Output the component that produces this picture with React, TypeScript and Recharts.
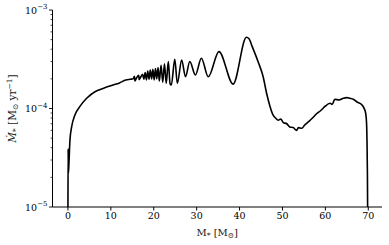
import { LineChart, Line, XAxis, YAxis } from "recharts";

// stellar mass [Msun]
const mass = [
  0.0, 0.05, 0.1, 0.25, 0.47, 0.86, 1.63, 2.8, 4.36, 6.3, 8.2, 10.5, 12.0, 13.5,
  14.5, 15.2, 15.5, 15.6, 16.0, 16.5, 16.6, 17.0, 17.4, 17.7, 18.0, 18.3, 18.6,
  18.9, 19.2, 19.5, 19.8, 20.1, 20.4, 20.7, 21.0, 21.3, 21.7, 22.1, 22.5, 22.9,
  23.4, 23.8, 24.1, 24.9, 25.5, 26.5, 27.4, 28.4, 29.7, 31.1, 32.7, 35.2, 38.5,
  41.6, 42.2, 43.0, 44.3, 45.5, 46.3, 47.1, 47.8, 48.4, 49.0, 49.6, 50.2, 51.0,
  51.7, 52.5, 53.3, 53.7, 54.5, 55.2, 56.0, 57.0, 58.0, 59.0, 59.9, 61.1, 61.6,
  62.2, 63.2, 64.2, 65.0, 65.7, 66.5, 67.3, 68.5, 69.0, 69.4, 69.6, 69.7, 69.8,
  69.85,
];

// accretion rate [Msun/yr]
const mdot = [
  1.0e-5, 3.9e-5, 2.2e-5, 2.9e-5, 4.8e-5, 6.5e-5, 8.6e-5, 1.05e-4, 1.27e-4,
  1.48e-4, 1.6e-4, 1.73e-4, 1.82e-4, 1.95e-4, 1.98e-4, 2.0e-4, 2.12e-4, 1.9e-4,
  2.05e-4, 2.17e-4, 1.96e-4, 2.1e-4, 2.22e-4, 1.98e-4, 2.32e-4, 1.95e-4, 2.4e-4,
  1.98e-4, 2.45e-4, 2.0e-4, 2.5e-4, 1.95e-4, 2.55e-4, 2.0e-4, 2.6e-4, 1.9e-4,
  2.75e-4, 1.85e-4, 2.85e-4, 1.8e-4, 3.0e-4, 1.78e-4, 1.73e-4, 3.16e-4, 1.8e-4,
  3.1e-4, 2.1e-4, 3.0e-4, 2.19e-4, 3.24e-4, 2.1e-4, 3.78e-4, 1.77e-4, 5.28e-4,
  5.1e-4, 4.2e-4, 3.0e-4, 2.1e-4, 1.43e-4, 1.05e-4, 8.6e-5, 8.0e-5, 7.6e-5,
  7.8e-5, 7.2e-5, 7.0e-5, 6.5e-5, 6.4e-5, 6.0e-5, 6.4e-5, 6.3e-5, 6.8e-5, 7.3e-5,
  8.0e-5, 8.9e-5, 9.6e-5, 1.05e-4, 1.13e-4, 1.1e-4, 1.24e-4, 1.22e-4, 1.27e-4,
  1.29e-4, 1.27e-4, 1.24e-4, 1.17e-4, 1.09e-4, 1.01e-4, 8.9e-5, 7.1e-5, 4.8e-5,
  2.2e-5, 1.0e-5,
];

const xTicks = [0, 10, 20, 30, 40, 50, 60, 70];
const yTicks = [
  1e-5, 2e-5, 3e-5, 4e-5, 5e-5, 6e-5, 7e-5, 8e-5, 9e-5,
  1e-4, 2e-4, 3e-4, 4e-4, 5e-4, 6e-4, 7e-4, 8e-4, 9e-4, 1e-3,
];

const data = mass.map((m, i) => ({ m, mdot: mdot[i] }));

const FONT = "'DejaVu Serif', serif";

const YTick = (props: any) => {
  const { x, y, payload } = props;
  const v = payload.value;
  const exp = Math.round(Math.log10(v));
  const major = Math.abs(v - Math.pow(10, exp)) < v * 1e-6;
  return (
    <g>
      <line x1={x} x2={x - (major ? 3.5 : 2)} y1={y} y2={y} stroke="#000" strokeWidth={major ? 0.9 : 0.7} />
      {major && (
        <text x={x - 5} y={y + 3.5} textAnchor="end" fontSize={9.5} fontFamily={FONT} fill="#000">
          10
          <tspan dy={-4.5} fontSize={7}>{"\u2212" + -exp}</tspan>
        </text>
      )}
    </g>
  );
};

const YLabel = (props: any) => {
  const { viewBox } = props;
  const cx = viewBox.x + 16;
  const cy = viewBox.y + viewBox.height / 2;
  return (
    <text x={cx} y={cy} transform={`rotate(-90 ${cx} ${cy})`} textAnchor="middle" fontSize={10.5} fontFamily={FONT} fill="#222">
      <tspan fontStyle="italic">{"\u1E40"}</tspan>
      <tspan fontSize={7.5} dy={2}>*</tspan>
      <tspan dy={-2}>{" [M"}</tspan>
      <tspan fontSize={7.5} dy={2}>{"\u2299"}</tspan>
      <tspan dy={-2}>{" yr"}</tspan>
      <tspan fontSize={7.5} dy={-4}>{"\u22121"}</tspan>
      <tspan dy={4}>]</tspan>
    </text>
  );
};

const XLabel = (props: any) => {
  const { viewBox } = props;
  const cx = viewBox.x + viewBox.width / 2;
  const cy = viewBox.y + 29;
  return (
    <text x={cx} y={cy} textAnchor="middle" fontSize={10} fontFamily={FONT} fill="#222">
      M<tspan fontSize={7.5} dy={2}>*</tspan>
      <tspan dy={-2}>{" [M"}</tspan>
      <tspan fontSize={7.5} dy={2}>{"\u2299"}</tspan>
      <tspan dy={-2}>]</tspan>
    </text>
  );
};

export default function App() {
  return (
    <div style={{ position: "absolute", left: 0, top: 0, background: "#fff" }}>
      <LineChart width={389} height={245} data={data} margin={{ top: 10, right: 7, bottom: 0, left: 0 }}>
        <XAxis
          dataKey="m"
          type="number"
          domain={[-3.6, 73.2]}
          ticks={xTicks}
          allowDataOverflow
          height={38}
          stroke="#000"
          tickSize={3.5}
          tickMargin={2}
          tick={{ fontSize: 9.5, fontFamily: FONT, fill: "#000" }}
          label={<XLabel />}
        />
        <XAxis xAxisId="top" orientation="top" dataKey="m" type="number" domain={[-3.6, 73.2]} height={0} tick={false} tickLine={false} stroke="#000" />
        <YAxis
          dataKey="mdot"
          scale="log"
          type="number"
          domain={[1e-5, 1e-3]}
          ticks={yTicks}
          allowDataOverflow
          width={52.5}
          stroke="#000"
          tickSize={0}
          tickMargin={0}
          tickLine={false}
          interval={0}
          tick={<YTick />}
          label={<YLabel />}
        />
        <YAxis yAxisId="right" orientation="right" type="number" domain={[0, 1]} width={0} tick={false} tickLine={false} stroke="#000" />
        <Line dataKey="mdot" stroke="#000" strokeWidth={1.6} dot={false} type="monotone" isAnimationActive={false} />
      </LineChart>
    </div>
  );
}
